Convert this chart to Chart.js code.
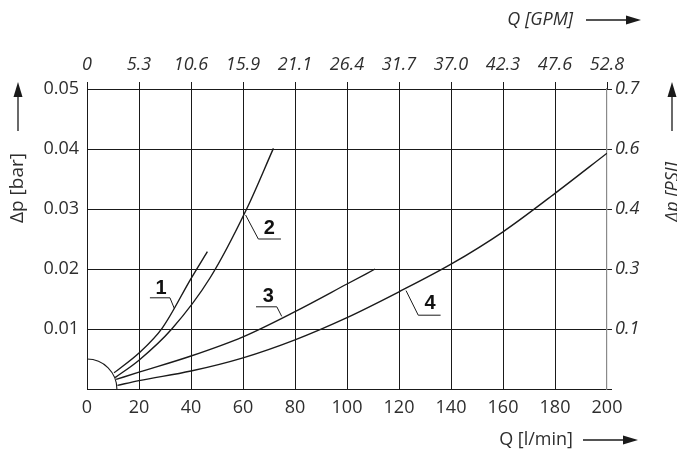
<!DOCTYPE html>
<html><head><meta charset="utf-8">
<script src="https://cdn.jsdelivr.net/npm/chart.js@4.4.1/dist/chart.umd.min.js"></script>
<style>html,body{margin:0;padding:0;background:#fff;overflow:hidden}</style>
</head><body>
<canvas id="c" width="677" height="450"></canvas>
<script>
// ---- data ----
const gpmLabels = ['0','5.3','10.6','15.9','21.1','26.4','31.7','37.0','42.3','47.6','52.8'];
const barLabels = ['', '0.01', '0.02', '0.03', '0.04', '0.05'];
const psiLabels = ['', '0.1', '0.3', '0.4', '0.6', '0.7'];

const curve1Q = [10.4, 20, 29, 40, 46.3];
const curve1P = [0.0027, 0.0060, 0.0102, 0.0184, 0.0229];
const curve2Q = [10.8, 20, 32.6, 47.3, 61.4, 71.7];
const curve2P = [0.0019, 0.0048, 0.0100, 0.0185, 0.0300, 0.0401];
const curve3Q = [11.2, 20, 40, 60, 80, 100, 110.8];
const curve3P = [0.0016, 0.0028, 0.0055, 0.0087, 0.0129, 0.0175, 0.0200];
const curve4Q = [11.7, 20, 40, 60, 80, 100, 120, 140, 160, 180, 200];
const curve4P = [0.0006, 0.0014, 0.0030, 0.0052, 0.0082, 0.0119, 0.0162, 0.0208, 0.0262, 0.0326, 0.0393];

const curveNames = ['1', '2', '3', '4'];
const labelQ = [28.5, 70.1, 69.7, 131.9];
const labelP = [0.0168, 0.0268, 0.0154, 0.0142];
const leader1Q = [24.2, 31.9, 33.6], leader1P = [0.0152, 0.0152, 0.0134];
const leader2Q = [74.6, 65.9, 61.0], leader2P = [0.0250, 0.0250, 0.0290];
const leader3Q = [65.0, 73.0, 74.9], leader3P = [0.0137, 0.0137, 0.0121];
const leader4Q = [136.0, 127.4, 122.7], leader4P = [0.0123, 0.0123, 0.0164];
const arcQ = 11.5, arcP = 0.005;

// ---- helpers ----
const pts = (q, p) => q.map((v, i) => ({x: v, y: p[i]}));
const INK = '#1a1a1a';
const TXT = '#2e2e2e';
const FONT = '"Open Sans", "DejaVu Sans", sans-serif';

const curveDS = (q, p) => ({data: pts(q, p), showLine: true, borderColor: INK, borderWidth: 1.4,
  pointRadius: 0, cubicInterpolationMode: 'monotone', fill: false});
const leaderDS = (q, p) => ({data: pts(q, p), showLine: true, borderColor: INK, borderWidth: 1,
  pointRadius: 0, tension: 0, fill: false});

function arrow(ctx, x1, y1, x2, y2) {
  const a = Math.atan2(y2 - y1, x2 - x1), L = 15, W = 4.5;
  const bx = x2 - L * Math.cos(a), by = y2 - L * Math.sin(a);
  ctx.beginPath(); ctx.moveTo(x1, y1); ctx.lineTo(bx, by); ctx.lineWidth = 1.3; ctx.strokeStyle = INK; ctx.stroke();
  ctx.beginPath(); ctx.moveTo(x2, y2);
  ctx.lineTo(bx + W * Math.sin(a), by - W * Math.cos(a));
  ctx.lineTo(bx - W * Math.sin(a), by + W * Math.cos(a));
  ctx.closePath(); ctx.fillStyle = INK; ctx.fill();
}

const decor = {
  id: 'decor',
  afterDatasetsDraw(chart) {
    const {ctx} = chart, x = chart.scales.x, y = chart.scales.y;
    ctx.save();
    const cx = x.getPixelForValue(0), cy = y.getPixelForValue(0);
    const rx = x.getPixelForValue(arcQ) - cx, ry = cy - y.getPixelForValue(arcP);
    ctx.beginPath(); ctx.ellipse(cx, cy, rx, ry, 0, -Math.PI / 2, 0);
    ctx.strokeStyle = INK; ctx.lineWidth = 1.1; ctx.stroke();
    ctx.font = 'bold 20px "Liberation Sans", Arial, sans-serif';
    ctx.textAlign = 'center'; ctx.textBaseline = 'middle'; ctx.fillStyle = '#111';
    curveNames.forEach((n, i) => ctx.fillText(n, x.getPixelForValue(labelQ[i]), y.getPixelForValue(labelP[i])));
    ctx.restore();
  },
  afterDraw(chart) {
    const {ctx} = chart;
    ctx.save();
    ctx.fillStyle = TXT; ctx.textBaseline = 'middle';
    // top title
    ctx.font = 'italic 18px ' + FONT; ctx.textAlign = 'right';
    ctx.fillText('Q [GPM]', 573, 20);
    arrow(ctx, 586, 20, 641, 20);
    // bottom title
    ctx.font = '18px ' + FONT; ctx.fillStyle = TXT; ctx.textAlign = 'right';
    ctx.fillText('Q [l/min]', 573, 440);
    arrow(ctx, 583, 440, 638, 440);
    // left title
    ctx.save(); ctx.translate(18, 188); ctx.rotate(-Math.PI / 2);
    ctx.font = '19px ' + FONT; ctx.fillStyle = TXT; ctx.textAlign = 'center';
    ctx.fillText('\u0394p [bar]', 0, 0); ctx.restore();
    arrow(ctx, 18, 131, 18, 82);
    // right title
    ctx.save(); ctx.translate(673, 192); ctx.rotate(-Math.PI / 2);
    ctx.font = 'italic 18px ' + FONT; ctx.fillStyle = TXT; ctx.textAlign = 'center';
    ctx.fillText('\u0394p [PSI]', 0, 0); ctx.restore();
    arrow(ctx, 672, 131, 672, 82);
    ctx.restore();
  }
};

new Chart(document.getElementById('c'), {
  type: 'scatter',
  data: {
    datasets: [
      curveDS(curve1Q, curve1P), curveDS(curve2Q, curve2P),
      curveDS(curve3Q, curve3P), curveDS(curve4Q, curve4P),
      leaderDS(leader1Q, leader1P), leaderDS(leader2Q, leader2P),
      leaderDS(leader3Q, leader3P), leaderDS(leader4Q, leader4P)
    ]
  },
  options: {
    responsive: false, animation: false, devicePixelRatio: 1,
    layout: {padding: 0},
    plugins: {legend: {display: false}, tooltip: {enabled: false}},
    scales: {
      x: {
        type: 'linear', position: 'bottom', min: 0, max: 200,
        ticks: {stepSize: 20, color: TXT, font: {family: FONT, size: 18}, padding: 8, maxRotation: 0},
        grid: {color: (c) => (c.tick && c.tick.value === 200) ? 'rgba(0,0,0,0)' : INK, lineWidth: 1, drawTicks: false},
        border: {color: INK, width: 1},
        afterFit: (s) => { s.height = 61; }
      },
      x2: {
        type: 'linear', position: 'top', min: 0, max: 200,
        ticks: {stepSize: 20, color: TXT, font: {family: FONT, size: 18, style: 'italic'}, padding: 6, maxRotation: 0,
          callback: (v, i) => gpmLabels[i]},
        grid: {drawOnChartArea: false, drawTicks: true, tickLength: 7, color: INK, lineWidth: 1},
        border: {color: INK, width: 1},
        afterFit: (s) => { s.height = 89; }
      },
      y: {
        type: 'linear', position: 'left', min: 0, max: 0.05,
        ticks: {stepSize: 0.01, color: TXT, font: {family: FONT, size: 18}, padding: 8,
          callback: (v, i) => barLabels[i]},
        grid: {color: INK, lineWidth: 1, drawTicks: false},
        border: {color: INK, width: 1},
        afterFit: (s) => { s.width = 87; }
      },
      y2: {
        type: 'linear', position: 'right', min: 0, max: 0.05,
        ticks: {stepSize: 0.01, color: TXT, font: {family: FONT, size: 18, style: 'italic'}, padding: 3,
          callback: (v, i) => psiLabels[i]},
        grid: {drawOnChartArea: false, drawTicks: true, tickLength: 5, color: INK, lineWidth: 1},
        border: {color: '#8a8a8a', width: 1.2},
        afterFit: (s) => { s.width = 70; }
      }
    }
  },
  plugins: [decor]
});
</script>
</body></html>
